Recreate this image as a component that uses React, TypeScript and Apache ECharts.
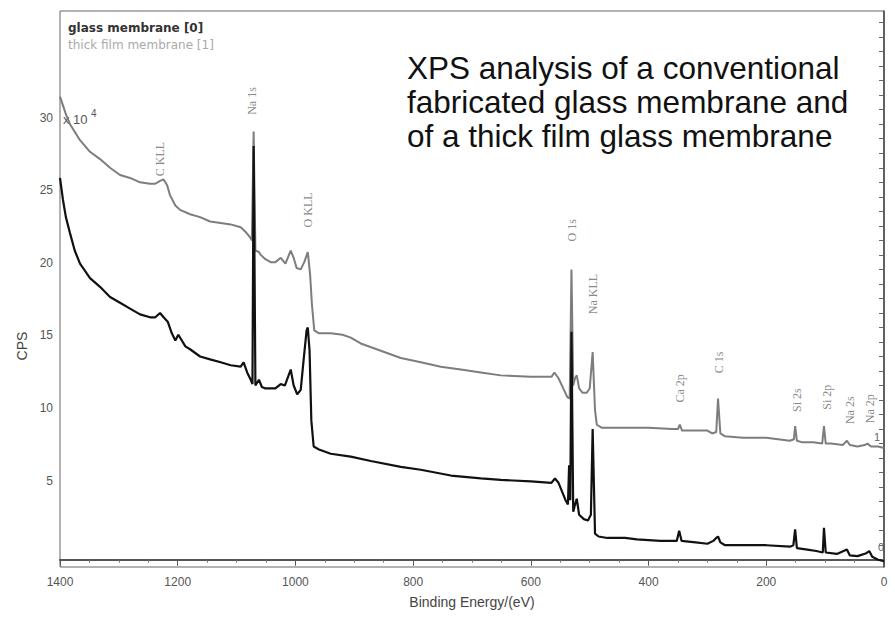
import React, { useEffect, useRef } from "react";
import * as echarts from "echarts";

// Binding energy (eV), CPS (x10^4)
const thickFilmSpectrum: [number, number][] = [
  [1400, 31.9], [1390, 30.7], [1383, 30.0], [1366, 28.9], [1349, 28.1], [1332, 27.6],
  [1315, 27.0], [1298, 26.5], [1281, 26.3], [1264, 26.0], [1247, 25.9], [1238, 25.9],
  [1230, 26.1], [1224, 26.2], [1218, 25.8], [1213, 25.1], [1204, 24.4], [1196, 24.1],
  [1179, 23.8], [1162, 23.6], [1145, 23.3], [1127, 23.2], [1110, 23.1], [1093, 22.9],
  [1085, 22.6], [1077, 22.2], [1074, 22.0], [1071, 29.5], [1068, 21.3], [1062, 21.2],
  [1059, 21.0], [1051, 20.7], [1042, 20.5], [1034, 20.5], [1025, 20.8], [1017, 20.4],
  [1008, 21.3], [1003, 20.8], [998, 20.1], [991, 20.0], [985, 20.5], [979, 21.2],
  [975, 19.6], [972, 17.6], [968, 15.8], [960, 15.6], [940, 15.6], [920, 15.5],
  [906, 15.3], [889, 14.9], [855, 14.4], [821, 13.9], [787, 13.6], [753, 13.3],
  [719, 13.1], [685, 12.9], [651, 12.7], [600, 12.6], [565, 12.6], [560, 12.9],
  [553, 12.5], [545, 11.8], [538, 11.2], [534, 11.1], [531, 20.0], [528, 12.0],
  [525, 12.5], [522, 12.7], [518, 11.8], [512, 11.5], [505, 11.5], [500, 11.8],
  [495, 14.3], [491, 10.3], [488, 9.3], [480, 9.1], [450, 9.1], [400, 9.1],
  [360, 9.0], [350, 9.0], [347, 9.3], [343, 8.9], [320, 8.9], [300, 8.9],
  [292, 8.7], [285, 8.8], [282, 11.1], [278, 8.7], [270, 8.5], [240, 8.4],
  [200, 8.4], [160, 8.2], [153, 8.3], [151, 9.2], [148, 8.2], [140, 8.1],
  [120, 8.1], [105, 8.0], [102, 9.2], [99, 8.0], [90, 8.0], [70, 7.9],
  [63, 8.2], [58, 7.9], [45, 7.8], [33, 7.9], [28, 8.0], [22, 7.8], [10, 7.8], [0, 7.7],
];

const glassSpectrum: [number, number][] = [
  [1400, 26.3], [1395, 24.8], [1390, 23.6], [1383, 22.5], [1375, 21.3], [1366, 20.4],
  [1349, 19.4], [1332, 18.8], [1315, 18.1], [1298, 17.7], [1281, 17.3], [1264, 16.9],
  [1247, 16.7], [1238, 16.7], [1230, 17.0], [1224, 16.7], [1217, 16.4], [1210, 15.6],
  [1204, 15.1], [1199, 15.5], [1193, 15.1], [1187, 14.7], [1179, 14.5], [1162, 14.0],
  [1145, 13.8], [1127, 13.6], [1110, 13.4], [1093, 13.3], [1088, 13.6], [1082, 12.9],
  [1076, 12.4], [1073, 12.1], [1071, 28.5], [1068, 12.0], [1062, 12.4], [1057, 11.9],
  [1051, 11.8], [1042, 11.8], [1034, 11.8], [1025, 12.1], [1018, 12.0], [1008, 13.1],
  [1003, 12.0], [997, 11.4], [991, 11.7], [986, 13.8], [981, 15.8], [979, 16.0],
  [976, 14.4], [973, 9.6], [969, 7.8], [960, 7.6], [940, 7.3], [906, 7.1],
  [872, 6.8], [821, 6.4], [787, 6.2], [736, 5.8], [685, 5.6], [651, 5.5],
  [600, 5.4], [565, 5.3], [559, 5.6], [553, 5.3], [548, 4.8], [541, 4.1],
  [537, 3.8], [535, 6.5], [533, 4.1], [531, 15.7], [528, 3.3], [525, 3.8],
  [522, 4.2], [518, 3.1], [510, 2.8], [503, 2.7], [498, 3.1], [495, 9.0],
  [491, 1.8], [485, 1.6], [470, 1.5], [440, 1.5], [420, 1.4], [380, 1.3],
  [352, 1.3], [348, 2.0], [344, 1.3], [320, 1.2], [300, 1.1], [290, 1.3],
  [285, 1.5], [282, 1.6], [278, 1.2], [270, 1.0], [240, 1.0], [200, 1.0],
  [160, 0.9], [154, 1.0], [151, 2.1], [148, 0.8], [130, 0.7], [115, 0.6],
  [104, 0.5], [102, 2.2], [99, 0.5], [80, 0.4], [63, 0.7], [58, 0.3],
  [45, 0.25], [30, 0.45], [25, 0.6], [20, 0.2], [10, 0.0], [0, -0.1],
];

const peakNames = ["C KLL", "Na 1s", "O KLL", "O 1s", "Na KLL", "Ca 2p", "C 1s", "Si 2s", "Si 2p", "Na 2s", "Na 2p"];
const peakEnergies = [1230, 1073, 979, 530, 494, 347, 281, 148, 97, 58, 24];
const peakLabelHeights = [27.6, 31.6, 24.1, 22.7, 18.3, 11.8, 13.6, 11.0, 11.2, 10.3, 10.4];

const yLabelValues = [5, 10, 15, 20, 25, 30];
const yTickValues = [0, 1, 2, 3, 4, 5, 6, 7, 8, 9, 10, 11, 12, 13, 14, 15, 16, 17, 18, 19, 20, 21, 22, 23, 24, 25, 26, 27, 28, 29, 30, 31, 32, 33, 34, 35, 36, 37];

const titleLines = [
  "XPS analysis of a conventional",
  "fabricated glass membrane and",
  "of a thick film glass membrane",
];

const SANS = "'Liberation Sans', Arial, sans-serif";

export default function App() {
  const ref = useRef<HTMLDivElement>(null);
  useEffect(() => {
    const chart = echarts.init(ref.current!, null, { renderer: "svg" });
    chart.setOption({
      animation: false,
      backgroundColor: "#ffffff",
      grid: {
        left: 60, right: 11, top: 11, bottom: 53,
        show: true, borderColor: "#666", borderWidth: 1, backgroundColor: "transparent",
      },
      xAxis: {
        type: "value",
        inverse: true,
        min: 0,
        max: 1400,
        interval: 200,
        axisLine: { lineStyle: { color: "#555", width: 2 } },
        axisTick: { inside: false, length: 6, lineStyle: { color: "#555" } },
        minorTick: { show: true, splitNumber: 4, length: 3, lineStyle: { color: "#777" } },
        splitLine: { show: false },
        minorSplitLine: { show: false },
        axisLabel: { fontSize: 12, color: "#555", margin: 9, fontFamily: SANS, formatter: (v: number) => String(v) },
        name: "Binding Energy/(eV)",
        nameLocation: "middle",
        nameGap: 28,
        nameTextStyle: { fontSize: 14, color: "#444", fontFamily: SANS },
      },
      yAxis: {
        type: "value",
        min: -0.5,
        max: 37.8,
        axisLine: { show: true, lineStyle: { color: "#444", width: 1.5 } },
        axisTick: { show: true, inside: false, length: 5, customValues: yTickValues, lineStyle: { color: "#666" } },
        axisLabel: {
          customValues: yLabelValues, fontSize: 12, color: "#555", margin: 7,
          verticalAlign: "bottom", lineHeight: 13, fontFamily: SANS,
          formatter: (v: number) => String(v),
        },
        splitLine: { show: false },
      },
      series: [
        {
          name: "thick film membrane [1]",
          type: "line",
          data: thickFilmSpectrum,
          showSymbol: false,
          symbol: "none",
          lineStyle: { color: "#7d7d7d", width: 2 },
          itemStyle: { color: "#7d7d7d" },
          z: 2,
          silent: true,
        },
        {
          name: "glass membrane [0]",
          type: "line",
          data: glassSpectrum,
          showSymbol: false,
          symbol: "none",
          lineStyle: { color: "#111", width: 2.2 },
          itemStyle: { color: "#111" },
          z: 3,
          silent: true,
        },
        {
          name: "peaks",
          type: "scatter",
          symbolSize: 0,
          silent: true,
          data: peakNames.map((n, i) => ({ name: n, value: [peakEnergies[i], peakLabelHeights[i]] })),
          label: {
            show: true,
            position: "inside",
            formatter: "{b}",
            rotate: 90,
            align: "center",
            verticalAlign: "middle",
            fontFamily: "'Liberation Serif', 'DejaVu Serif', serif",
            fontSize: 12,
            color: "#6a6a6a",
          },
          z: 4,
        },
      ],
      graphic: [
        { type: "text", left: 68, top: 22, style: { text: "glass membrane [0]", fontSize: 12, fontFamily: "'DejaVu Sans', sans-serif", fill: "#333", fontWeight: "bold" } },
        { type: "text", left: 68, top: 39, style: { text: "thick film membrane [1]", fontSize: 12, fontFamily: "'DejaVu Sans', sans-serif", fill: "#aaa" } },
        { type: "text", x: 63, y: 119, style: { text: "x 10", fontSize: 13, fontFamily: SANS, fill: "#555", verticalAlign: "middle" } },
        { type: "text", x: 91, y: 113, style: { text: "4", fontSize: 10, fontFamily: SANS, fill: "#555", verticalAlign: "middle" } },
        { type: "text", x: 22, y: 346, rotation: Math.PI / 2, style: { text: "CPS", fontSize: 14, fontFamily: SANS, fill: "#444", align: "center", verticalAlign: "middle" } },
        { type: "text", x: 877, y: 437, style: { text: "1", fontSize: 11, fontFamily: SANS, fill: "#666", align: "center", verticalAlign: "middle" } },
        { type: "text", x: 881, y: 547, style: { text: "0", fontSize: 11, fontFamily: SANS, fill: "#666", align: "center", verticalAlign: "middle" } },
        ...titleLines.map((t, i) => ({
          type: "text",
          x: 407,
          y: 68 + i * 34,
          style: { text: t, fontSize: 31.5, fontFamily: SANS, fill: "#111", verticalAlign: "middle" },
        })),
      ],
    });
    return () => chart.dispose();
  }, []);
  return <div ref={ref} style={{ position: "fixed", left: 0, top: 0, width: 895, height: 620 }} />;
}
